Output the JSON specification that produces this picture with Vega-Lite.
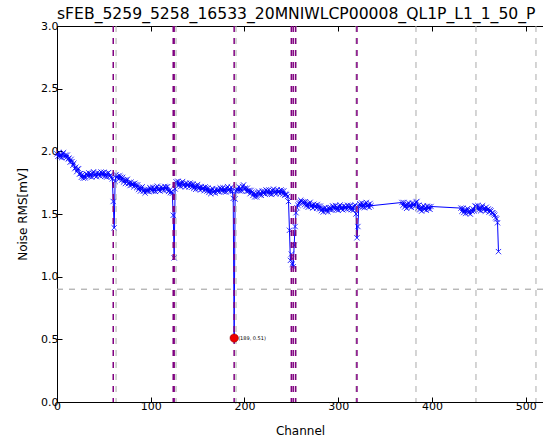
{
  "$schema": "https://vega.github.io/schema/vega-lite/v6.json",
  "width": 486,
  "height": 376,
  "autosize": {"type": "none"},
  "padding": {"left": 57, "top": 26, "right": 0, "bottom": 38},
  "background": "white",
  "title": {"text": "sFEB_5259_5258_16533_20MNIWLCP00008_QL1P_L1_1_50_P", "anchor": "start", "frame": "group", "font": "DejaVu Sans", "fontSize": 15.6, "fontWeight": "normal", "color": "black", "offset": 0, "dy": 3},
  "config": {
    "view": {"stroke": null},
    "axis": {"labelFont": "DejaVu Sans", "labelFontSize": 11, "labelColor": "black", "labelFlush": false, "titleFont": "DejaVu Sans", "titleFontSize": 12, "titleFontWeight": "normal", "titleColor": "black", "domainColor": "black", "domainWidth": 1, "tickColor": "black", "tickSize": -5, "grid": false}
  },
  "resolve": {"axis": {"x": "independent"}},
  "datasets": {
    "noise": [
      {"c":0,"v":1.98},{"c":1,"v":1.96},{"c":2,"v":1.99},{"c":3,"v":1.955},{"c":4,"v":1.975},{"c":5,"v":1.95},{"c":6,"v":1.98},{"c":7,"v":1.99},{"c":8,"v":1.955},{"c":9,"v":1.97},
      {"c":10,"v":1.95},{"c":11,"v":1.97},{"c":12,"v":1.94},{"c":13,"v":1.945},{"c":14,"v":1.914},{"c":15,"v":1.936},{"c":16,"v":1.918},{"c":17,"v":1.889},{"c":18,"v":1.905},{"c":19,"v":1.862},
      {"c":20,"v":1.873},{"c":21,"v":1.838},{"c":22,"v":1.858},{"c":23,"v":1.861},{"c":24,"v":1.819},{"c":25,"v":1.822},{"c":26,"v":1.793},{"c":27,"v":1.814},{"c":28,"v":1.786},{"c":29,"v":1.804},
      {"c":30,"v":1.788},{"c":31,"v":1.82},{"c":32,"v":1.817},{"c":33,"v":1.802},{"c":34,"v":1.828},{"c":35,"v":1.80},{"c":36,"v":1.82},{"c":37,"v":1.795},{"c":38,"v":1.825},{"c":39,"v":1.837},
      {"c":40,"v":1.805},{"c":41,"v":1.818},{"c":42,"v":1.798},{"c":43,"v":1.829},{"c":44,"v":1.811},{"c":45,"v":1.824},{"c":46,"v":1.803},{"c":47,"v":1.835},{"c":48,"v":1.827},{"c":49,"v":1.807},
      {"c":50,"v":1.833},{"c":51,"v":1.80},{"c":52,"v":1.82},{"c":53,"v":1.795},{"c":54,"v":1.825},{"c":55,"v":1.83},{"c":56,"v":1.80},{"c":57,"v":1.81},{"c":58,"v":1.795},{"c":59,"v":1.78},
      {"c":60,"v":1.60},{"c":61,"v":1.39},{"c":62,"v":1.76},{"c":63,"v":1.814},{"c":64,"v":1.792},{"c":65,"v":1.802},{"c":66,"v":1.777},{"c":67,"v":1.805},{"c":68,"v":1.793},{"c":69,"v":1.77},
      {"c":70,"v":1.792},{"c":71,"v":1.755},{"c":72,"v":1.771},{"c":73,"v":1.743},{"c":74,"v":1.769},{"c":75,"v":1.777},{"c":76,"v":1.741},{"c":77,"v":1.751},{"c":78,"v":1.727},{"c":79,"v":1.754},
      {"c":80,"v":1.732},{"c":81,"v":1.742},{"c":82,"v":1.717},{"c":83,"v":1.745},{"c":84,"v":1.733},{"c":85,"v":1.71},{"c":86,"v":1.732},{"c":87,"v":1.695},{"c":88,"v":1.711},{"c":89,"v":1.683},
      {"c":90,"v":1.709},{"c":91,"v":1.717},{"c":92,"v":1.681},{"c":93,"v":1.691},{"c":94,"v":1.667},{"c":95,"v":1.694},{"c":96,"v":1.681},{"c":97,"v":1.697},{"c":98,"v":1.678},{"c":99,"v":1.71},
      {"c":100,"v":1.704},{"c":101,"v":1.686},{"c":102,"v":1.713},{"c":103,"v":1.682},{"c":104,"v":1.705},{"c":105,"v":1.68},{"c":106,"v":1.71},{"c":107,"v":1.722},{"c":108,"v":1.69},{"c":109,"v":1.703},
      {"c":110,"v":1.683},{"c":111,"v":1.714},{"c":112,"v":1.696},{"c":113,"v":1.709},{"c":114,"v":1.688},{"c":115,"v":1.72},{"c":116,"v":1.712},{"c":117,"v":1.692},{"c":118,"v":1.718},{"c":119,"v":1.68},
      {"c":120,"v":1.69},{"c":121,"v":1.67},{"c":122,"v":1.68},{"c":123,"v":1.665},{"c":124,"v":1.49},{"c":125,"v":1.15},{"c":126,"v":1.70},{"c":127,"v":1.757},{"c":128,"v":1.736},{"c":129,"v":1.761},
      {"c":130,"v":1.727},{"c":131,"v":1.745},{"c":132,"v":1.719},{"c":133,"v":1.748},{"c":134,"v":1.759},{"c":135,"v":1.726},{"c":136,"v":1.738},{"c":137,"v":1.716},{"c":138,"v":1.746},{"c":139,"v":1.727},
      {"c":140,"v":1.739},{"c":141,"v":1.716},{"c":142,"v":1.747},{"c":143,"v":1.737},{"c":144,"v":1.715},{"c":145,"v":1.74},{"c":146,"v":1.705},{"c":147,"v":1.723},{"c":148,"v":1.697},{"c":149,"v":1.725},
      {"c":150,"v":1.735},{"c":151,"v":1.702},{"c":152,"v":1.713},{"c":153,"v":1.691},{"c":154,"v":1.719},{"c":155,"v":1.699},{"c":156,"v":1.71},{"c":157,"v":1.686},{"c":158,"v":1.716},{"c":159,"v":1.706},
      {"c":160,"v":1.683},{"c":161,"v":1.707},{"c":162,"v":1.672},{"c":163,"v":1.69},{"c":164,"v":1.662},{"c":165,"v":1.69},{"c":166,"v":1.703},{"c":167,"v":1.672},{"c":168,"v":1.686},{"c":169,"v":1.667},
      {"c":170,"v":1.699},{"c":171,"v":1.682},{"c":172,"v":1.696},{"c":173,"v":1.676},{"c":174,"v":1.709},{"c":175,"v":1.702},{"c":176,"v":1.683},{"c":177,"v":1.71},{"c":178,"v":1.678},{"c":179,"v":1.699},
      {"c":180,"v":1.675},{"c":181,"v":1.705},{"c":182,"v":1.718},{"c":183,"v":1.687},{"c":184,"v":1.701},{"c":185,"v":1.682},{"c":186,"v":1.714},{"c":187,"v":1.68},{"c":188,"v":1.625},{"c":189,"v":0.51},
      {"c":190,"v":1.62},{"c":191,"v":1.685},{"c":192,"v":1.702},{"c":193,"v":1.687},{"c":194,"v":1.718},{"c":195,"v":1.685},{"c":196,"v":1.705},{"c":197,"v":1.685},{"c":198,"v":1.72},{"c":199,"v":1.732},
      {"c":200,"v":1.70},{"c":201,"v":1.707},{"c":202,"v":1.681},{"c":203,"v":1.706},{"c":204,"v":1.682},{"c":205,"v":1.689},{"c":206,"v":1.662},{"c":207,"v":1.688},{"c":208,"v":1.674},{"c":209,"v":1.648},
      {"c":210,"v":1.668},{"c":211,"v":1.637},{"c":212,"v":1.659},{"c":213,"v":1.636},{"c":214,"v":1.668},{"c":215,"v":1.682},{"c":216,"v":1.652},{"c":217,"v":1.667},{"c":218,"v":1.649},{"c":219,"v":1.682},
      {"c":220,"v":1.666},{"c":221,"v":1.68},{"c":222,"v":1.659},{"c":223,"v":1.692},{"c":224,"v":1.685},{"c":225,"v":1.665},{"c":226,"v":1.692},{"c":227,"v":1.66},{"c":228,"v":1.68},{"c":229,"v":1.656},
      {"c":230,"v":1.687},{"c":231,"v":1.699},{"c":232,"v":1.668},{"c":233,"v":1.682},{"c":234,"v":1.662},{"c":235,"v":1.694},{"c":236,"v":1.674},{"c":237,"v":1.685},{"c":238,"v":1.662},{"c":239,"v":1.692},
      {"c":240,"v":1.682},{"c":241,"v":1.66},{"c":242,"v":1.684},{"c":243,"v":1.65},{"c":244,"v":1.66},{"c":245,"v":1.655},{"c":246,"v":1.64},{"c":247,"v":1.60},{"c":248,"v":1.37},{"c":249,"v":1.13},
      {"c":250,"v":1.18},{"c":251,"v":1.10},{"c":252,"v":1.08},{"c":253,"v":1.25},{"c":254,"v":1.40},{"c":255,"v":1.51},{"c":256,"v":1.55},{"c":257,"v":1.57},{"c":258,"v":1.585},{"c":259,"v":1.595},
      {"c":260,"v":1.61},{"c":261,"v":1.60},{"c":262,"v":1.59},{"c":263,"v":1.597},{"c":264,"v":1.574},{"c":265,"v":1.598},{"c":266,"v":1.563},{"c":267,"v":1.581},{"c":268,"v":1.554},{"c":269,"v":1.583},
      {"c":270,"v":1.593},{"c":271,"v":1.559},{"c":272,"v":1.57},{"c":273,"v":1.548},{"c":274,"v":1.578},{"c":275,"v":1.558},{"c":276,"v":1.569},{"c":277,"v":1.545},{"c":278,"v":1.574},{"c":279,"v":1.563},
      {"c":280,"v":1.54},{"c":281,"v":1.563},{"c":282,"v":1.527},{"c":283,"v":1.544},{"c":284,"v":1.516},{"c":285,"v":1.543},{"c":286,"v":1.552},{"c":287,"v":1.522},{"c":288,"v":1.537},{"c":289,"v":1.518},
      {"c":290,"v":1.551},{"c":291,"v":1.535},{"c":292,"v":1.55},{"c":293,"v":1.531},{"c":294,"v":1.565},{"c":295,"v":1.558},{"c":296,"v":1.54},{"c":297,"v":1.568},{"c":298,"v":1.535},{"c":299,"v":1.555},
      {"c":300,"v":1.53},{"c":301,"v":1.56},{"c":302,"v":1.572},{"c":303,"v":1.54},{"c":304,"v":1.553},{"c":305,"v":1.533},{"c":306,"v":1.564},{"c":307,"v":1.546},{"c":308,"v":1.559},{"c":309,"v":1.538},
      {"c":310,"v":1.57},{"c":311,"v":1.562},{"c":312,"v":1.542},{"c":313,"v":1.568},{"c":314,"v":1.535},{"c":315,"v":1.555},{"c":316,"v":1.53},{"c":317,"v":1.56},{"c":318,"v":1.572},{"c":319,"v":1.50},
      {"c":320,"v":1.31},{"c":321,"v":1.40},{"c":322,"v":1.56},{"c":323,"v":1.582},{"c":324,"v":1.562},{"c":325,"v":1.588},{"c":326,"v":1.555},{"c":327,"v":1.575},{"c":328,"v":1.55},{"c":329,"v":1.58},
      {"c":330,"v":1.592},{"c":331,"v":1.56},{"c":332,"v":1.573},{"c":333,"v":1.553},{"c":334,"v":1.584},{"c":335,"v":1.566},
      {"c":368,"v":1.592},{"c":369,"v":1.569},{"c":370,"v":1.592},{"c":371,"v":1.556},{"c":372,"v":1.573},{"c":373,"v":1.545},{"c":374,"v":1.576},{"c":375,"v":1.589},{"c":376,"v":1.558},{"c":377,"v":1.572},
      {"c":378,"v":1.553},{"c":379,"v":1.585},{"c":380,"v":1.568},{"c":381,"v":1.582},{"c":382,"v":1.562},{"c":383,"v":1.594},{"c":384,"v":1.60},{"c":385,"v":1.547},{"c":386,"v":1.57},{"c":387,"v":1.534},
      {"c":388,"v":1.551},{"c":389,"v":1.523},{"c":390,"v":1.55},{"c":391,"v":1.567},{"c":392,"v":1.536},{"c":393,"v":1.549},{"c":394,"v":1.53},{"c":395,"v":1.562},{"c":396,"v":1.544},{"c":397,"v":1.558},
      {"c":398,"v":1.537},{"c":399,"v":1.56},
      {"c":431,"v":1.547},{"c":432,"v":1.522},{"c":433,"v":1.546},{"c":434,"v":1.512},{"c":435,"v":1.53},{"c":436,"v":1.504},{"c":437,"v":1.532},{"c":438,"v":1.543},{"c":439,"v":1.509},
      {"c":440,"v":1.521},{"c":441,"v":1.499},{"c":442,"v":1.529},{"c":443,"v":1.521},{"c":444,"v":1.54},{"c":445,"v":1.525},{"c":446,"v":1.563},{"c":447,"v":1.562},{"c":448,"v":1.542},{"c":449,"v":1.567},
      {"c":450,"v":1.533},{"c":451,"v":1.552},{"c":452,"v":1.526},{"c":453,"v":1.555},{"c":454,"v":1.566},{"c":455,"v":1.533},{"c":456,"v":1.545},{"c":457,"v":1.524},{"c":458,"v":1.554},{"c":459,"v":1.532},
      {"c":460,"v":1.54},{"c":461,"v":1.515},{"c":462,"v":1.533},{"c":463,"v":1.524},{"c":464,"v":1.509},{"c":465,"v":1.51},{"c":466,"v":1.50},{"c":467,"v":1.49},{"c":468,"v":1.47},{"c":469,"v":1.46},
      {"c":470,"v":1.43},{"c":471,"v":1.20}
    ],
    "bounds": [{"c":63},{"c":127},{"c":191},{"c":255},{"c":319},{"c":383},{"c":447},{"c":511}],
    "bad": [{"c":60},{"c":124},{"c":125},{"c":189},{"c":250},{"c":252},{"c":254.5},{"c":320}],
    "thr": [{"v":0.9}],
    "minpt": [{"c":189,"v":0.51,"t":"(189, 0.51)"}]
  },
  "layer": [
    {
      "data": {"name": "noise"},
      "mark": {"type": "line", "color": "#0000ff", "strokeWidth": 1},
      "encoding": {
        "x": {"field": "c", "type": "quantitative", "scale": {"domain": [0, 518.5], "nice": false, "zero": false},
              "axis": {"title": "Channel", "values": [0,100,200,300,400,500], "format": "d", "labelPadding": 3, "titleY": 32, "titleBaseline": "alphabetic"}},
        "y": {"field": "v", "type": "quantitative", "scale": {"domain": [0, 3], "nice": false},
              "axis": {"title": "Noise RMS[mV]", "values": [0,0.5,1,1.5,2,2.5,3], "format": ".1f", "labelPadding": 4, "titleX": -31, "titleBaseline": "alphabetic"}}
      }
    },
    {
      "data": {"name": "noise"},
      "mark": {"type": "point", "shape": "M-1,-1L1,1M-1,1L1,-1", "filled": false, "stroke": "#0000ff", "strokeWidth": 0.8, "size": 28, "opacity": 1},
      "encoding": {
        "x": {"field": "c", "type": "quantitative", "axis": null},
        "y": {"field": "v", "type": "quantitative"}
      }
    },
    {
      "data": {"name": "bounds"},
      "mark": {"type": "rule", "color": "#aaaaaa", "strokeWidth": 1, "strokeDash": [6, 6]},
      "encoding": {"x": {"field": "c", "type": "quantitative",
        "axis": {"orient": "top", "labels": false, "title": null, "values": [0,100,200,300,400,500], "tickSize": -5}}}
    },
    {
      "data": {"name": "bad"},
      "mark": {"type": "rule", "color": "#800080", "strokeWidth": 1.5, "strokeDash": [6, 6]},
      "encoding": {"x": {"field": "c", "type": "quantitative", "axis": null}}
    },
    {
      "data": {"name": "thr"},
      "mark": {"type": "rule", "color": "#999999", "strokeWidth": 1, "strokeDash": [6, 6]},
      "encoding": {"y": {"field": "v", "type": "quantitative"}}
    },
    {
      "data": {"name": "minpt"},
      "mark": {"type": "point", "shape": "circle", "filled": true, "fill": "#ee0000", "stroke": "#800000", "strokeWidth": 0.5, "size": 70, "opacity": 1},
      "encoding": {
        "x": {"field": "c", "type": "quantitative", "axis": null},
        "y": {"field": "v", "type": "quantitative"}
      }
    },
    {
      "data": {"name": "minpt"},
      "mark": {"type": "text", "font": "DejaVu Sans", "fontSize": 5, "align": "left", "baseline": "middle", "dx": 4, "color": "black"},
      "encoding": {
        "x": {"field": "c", "type": "quantitative", "axis": null},
        "y": {"field": "v", "type": "quantitative"},
        "text": {"field": "t"}
      }
    }
  ]
}
